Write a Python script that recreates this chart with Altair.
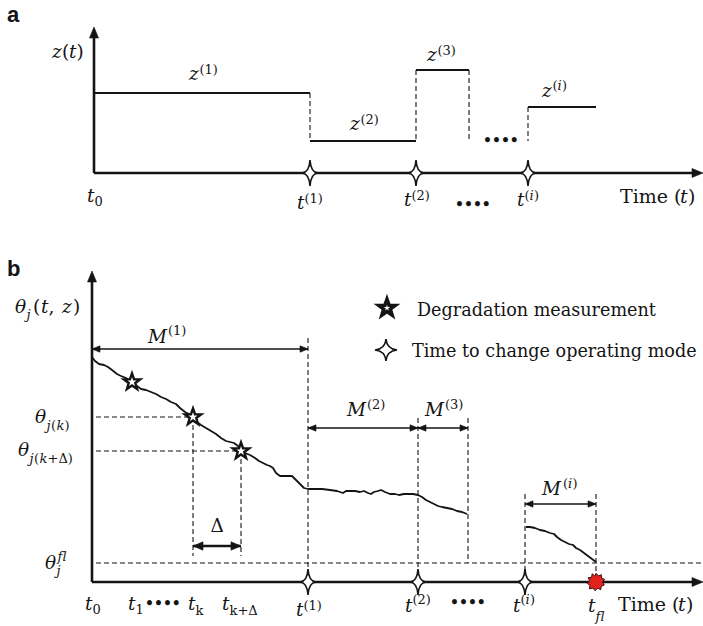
import altair as alt
import pandas as pd

W, H = 703, 626

# ------------------------------------------------------------------
# Diagram geometry (in picture units: x to the right, y downward)
# ------------------------------------------------------------------
# solid segments: x, y, x2, y2, stroke width
SOLID = [
    (94, 173, 94, 36, 2.6),      # (a) vertical axis
    (94, 173, 694, 173, 2.6),    # (a) time axis
    (94, 93, 310, 93, 2.0),      # z(1)
    (310, 141, 416, 141, 2.0),   # z(2)
    (416, 70, 469, 70, 2.0),     # z(3)
    (528, 107, 596, 107, 2.0),   # z(i)
    (92, 582, 92, 280, 2.6),     # (b) vertical axis
    (92, 582, 694, 582, 2.6),    # (b) time axis
    (92, 349, 308, 349, 1.5),    # M(1)
    (308, 428, 418, 428, 1.5),   # M(2)
    (418, 428, 468, 428, 1.5),   # M(3)
    (525, 504, 596, 504, 1.5),   # M(i)
    (193, 546, 241, 546, 2.6),   # Delta
]

# dashed segments: x, y, x2, y2
DASHED = [
    (310, 93, 310, 141), (416, 70, 416, 141), (469, 70, 469, 141), (528, 107, 528, 141),
    (308, 338, 308, 582), (418, 418, 418, 582), (468, 418, 468, 563),
    (525, 494, 525, 582), (596, 494, 596, 582),
    (96, 417, 193, 417), (193, 417, 193, 556),
    (96, 451, 241, 451), (241, 451, 241, 556),
    (96, 563, 703, 563),
]

# degradation path theta_j(t, z), three observed pieces
SEG1 = [(92, 357), (95, 361), (99, 364), (104, 365), (108, 367), (112, 370), (117, 374),
        (121, 376), (126, 378), (132, 382), (137, 386), (141, 389), (146, 390), (151, 392),
        (156, 394), (161, 397), (166, 399), (171, 402), (176, 404), (180, 408), (185, 412),
        (189, 414), (193, 417), (197, 422), (201, 425), (206, 428), (211, 431), (216, 434),
        (221, 438), (226, 441), (230, 442), (234, 443), (238, 446), (241, 451), (245, 453),
        (250, 455), (255, 458), (259, 461), (263, 463), (267, 465), (270, 466), (273, 468),
        (276, 473), (280, 476), (285, 476), (292, 476), (296, 480), (300, 484), (304, 488),
        (308, 489)]
SEG2 = [(308, 489), (315, 489), (322, 489), (330, 490), (337, 491), (343, 493), (346, 491),
        (350, 491), (355, 491), (360, 492), (364, 491), (368, 493), (371, 494), (374, 492),
        (378, 491), (381, 490), (385, 492), (390, 494), (395, 494), (399, 495), (404, 494),
        (408, 494), (413, 494), (418, 495), (422, 497), (426, 500), (430, 502), (434, 504),
        (438, 506), (442, 507), (447, 508), (452, 509), (457, 511), (462, 512), (467, 514)]
SEG3 = [(526, 527), (530, 527), (535, 528), (540, 530), (545, 531), (550, 533), (554, 534),
        (557, 537), (561, 540), (565, 542), (569, 544), (573, 545), (576, 548), (580, 550),
        (584, 553), (588, 556), (592, 559), (596, 562)]

MEASURE_PTS = [(132, 382), (193, 417), (241, 451)]          # five-point stars
MODE_PTS = [(310, 173), (416, 173), (528, 173),
            (308, 582), (418, 582), (525, 582)]               # four-point stars
FAIL_PT = [(596, 582)]                                       # failure burst
LEGEND_STAR5 = [(387, 308)]
LEGEND_STAR4 = [(386, 350)]

# arrow tips
AXIS_UP = [(94, 27), (92, 271)]
AXIS_RIGHT = [(703, 173), (703, 582)]
DIM_RIGHT = [(308, 349), (418, 428), (468, 428), (596, 504)]
DIM_LEFT = [(92, 349), (308, 428), (418, 428), (525, 504)]
DELTA_RIGHT = [(241, 546)]
DELTA_LEFT = [(193, 546)]

M, S = 18.5, 13   # main / script font sizes
LEG = 17.6        # legend font size
TT = 19           # "Time (t)" font size
# text pieces: x (left), baseline y, font size, text
TXT_ITALIC = [
    (52, 58, M, "z"), (69, 58, M, "t"),
    (189, 80, M, "z"), (350, 130, M, "z"), (427, 61, M, "z"), (542, 97, M, "z"),
    (557.5, 90, S, "i"),
    (87, 202, M, "t"), (297, 209, M, "t"), (404, 206, M, "t"), (517, 206, M, "t"),
    (529.5, 200, S, "i"), (680, 203, TT, "t"),
    (15, 313, M, "θ"), (26.5, 319, S, "j"), (41, 313, M, "t"), (62, 313, M, "z"),
    (148, 343, M, "M"), (347, 416, M, "M"), (425, 416, M, "M"), (542, 495, M, "M"),
    (568, 488, S, "i"),
    (35, 423, M, "θ"), (46.5, 430, S, "j"), (56.5, 430, S, "k"),
    (18, 456, M, "θ"), (29.5, 463, S, "j"), (39.5, 463, S, "k"),
    (45, 569, M, "θ"), (56.5, 575, S, "j"), (57.5, 561, S, "f"), (62.5, 561, S, "l"),
    (85, 610, M, "t"), (128, 610, M, "t"), (188, 610, M, "t"), (222, 610, M, "t"),
    (296, 616, M, "t"), (405, 612, M, "t"), (513, 612, M, "t"), (525.5, 604, S, "i"),
    (588, 612, M, "t"), (595.5, 621, S, "f"), (600.5, 621, S, "l"),
    (678, 611, TT, "t"),
]
TXT_UPRIGHT = [
    (62, 58, M, "("), (76.5, 58, M, ")"),
    (199.5, 74, S, "(1)"), (360.5, 124, S, "(2)"), (437.5, 55, S, "(3)"),
    (552.5, 90, S, "("), (562, 90, S, ")"),
    (94.5, 206, S, "0"), (304.5, 203, S, "(1)"), (411.5, 200, S, "(2)"),
    (524.5, 200, S, "("), (534, 200, S, ")"),
    (620, 203, TT, "Time ("), (688, 203, TT, ")"),
    (33, 313, M, "("), (48.5, 313, M, ","), (73, 313, M, ")"),
    (168, 335, S, "(1)"), (367, 409, S, "(2)"), (445, 409, S, "(3)"),
    (563, 488, S, "("), (572.5, 488, S, ")"),
    (51, 430, S, "("), (64.5, 430, S, ")"),
    (34, 463, S, "("), (47.5, 463, S, "+Δ)"),
    (210.5, 532, M, "Δ"),
    (92.5, 614, S, "0"), (135.5, 614, S, "1"), (195.5, 615, S, "k"), (229.5, 615, S, "k+Δ"),
    (303.5, 610, S, "(1)"), (412.5, 604, S, "(2)"),
    (520.5, 604, S, "("), (530, 604, S, ")"),
    (618, 611, TT, "Time ("), (686, 611, TT, ")"),
    (417, 316, LEG, "Degradation measurement"),
    (412, 357, LEG, "Time to change operating mode"),
]
TXT_DOTS = [(483, 145, 14, "••••"), (455, 209, 14, "••••"),
            (145, 608, 14, "••••"), (450, 607, 14, "••••")]
TXT_PANEL = [(7, 22, 22, "a"), (7, 276, 22, "b")]

# ------------------------------------------------------------------
# shapes (unit paths) and styles
# ------------------------------------------------------------------
STAR5 = ("M0,-1L0.235,-0.324L0.951,-0.309L0.380,0.124L0.588,0.809L0,0.4"
         "L-0.588,0.809L-0.380,0.124L-0.951,-0.309L-0.235,-0.324Z")
STAR4_TALL = "M0,-1Q0.06,-0.06,0.6,0Q0.06,0.06,0,1Q-0.06,0.06,-0.6,0Q-0.06,-0.06,0,-1Z"
STAR4 = "M0,-1Q0.08,-0.08,1,0Q0.08,0.08,0,1Q-0.08,0.08,-1,0Q-0.08,-0.08,0,-1Z"
BURST = ("M0,-1L0.3,-0.7L0.6,-0.85L0.65,-0.45L1,-0.3L0.75,0L0.95,0.35L0.6,0.5L0.55,0.9"
         "L0.2,0.7L-0.1,1L-0.35,0.7L-0.75,0.8L-0.7,0.4L-1,0.15L-0.75,-0.15L-0.9,-0.5"
         "L-0.5,-0.55L-0.45,-0.95L-0.15,-0.7Z")

INK = "#141414"
SERIF = "DejaVu Serif"
SANS = "Liberation Sans, Arial, sans-serif"

XS = alt.Scale(domain=[0, W], nice=False, zero=False)
YS = alt.Scale(domain=[H, 0], nice=False, zero=False)


def X(f="x"):
    return alt.X(f"{f}:Q", scale=XS, axis=None)


def Y(f="y"):
    return alt.Y(f"{f}:Q", scale=YS, axis=None)


def pts(rows):
    return pd.DataFrame(rows, columns=["x", "y"])


def txt(rows):
    return pd.DataFrame(rows, columns=["x", "y", "s", "t"])


solid_df = pd.DataFrame(SOLID, columns=["x", "y", "x2", "y2", "w"])
dash_df = pd.DataFrame(DASHED, columns=["x", "y", "x2", "y2"])

curve_rows = []
for k, seg in enumerate([SEG1, SEG2, SEG3]):
    for i, (cx, cy) in enumerate(seg):
        curve_rows.append({"x": cx, "y": cy, "seg": k, "o": i})
curve_df = pd.DataFrame(curve_rows)

# ---- arrow heads as small filled triangles (areas), built from the tips ----
h_rows, v_rows = [], []
hid = 0
for tips, direction, length, half in [
        (AXIS_RIGHT, "right", 11, 4.5), (DIM_RIGHT, "right", 8, 3.2),
        (DIM_LEFT, "left", 8, 3.2), (DELTA_RIGHT, "right", 10, 4.2),
        (DELTA_LEFT, "left", 10, 4.2), (AXIS_UP, "up", 11, 4.5)]:
    for tx, ty in tips:
        hid += 1
        if direction == "up":
            v_rows.append({"y": ty, "x": tx, "x2": tx, "id": hid})
            v_rows.append({"y": ty + length, "x": tx - half, "x2": tx + half, "id": hid})
        else:
            base = tx - length if direction == "right" else tx + length
            h_rows.append({"x": tx, "y": ty, "y2": ty, "id": hid})
            h_rows.append({"x": base, "y": ty - half, "y2": ty + half, "id": hid})
heads_h = pd.DataFrame(h_rows)
heads_v = pd.DataFrame(v_rows)

layers = []

layers.append(
    alt.Chart(dash_df).mark_rule(color=INK, strokeWidth=1.1, strokeDash=[5, 3]).encode(
        x=X(), y=Y(), x2="x2:Q", y2="y2:Q")
)
layers.append(
    alt.Chart(solid_df).mark_rule(color=INK, strokeCap="butt").encode(
        x=X(), y=Y(), x2="x2:Q", y2="y2:Q",
        strokeWidth=alt.StrokeWidth("w:Q", scale=None))
)
layers.append(
    alt.Chart(curve_df).mark_line(color=INK, strokeWidth=1.8, strokeJoin="round").encode(
        x=X(), y=Y(), detail="seg:N", order="o:Q")
)
layers.append(
    alt.Chart(heads_h).mark_area(orient="vertical", color=INK, opacity=1,
                                 stroke=INK, strokeWidth=0.6).encode(
        x=X(), y=Y(), y2="y2:Q", detail="id:N")
)
layers.append(
    alt.Chart(heads_v).mark_area(orient="horizontal", color=INK, opacity=1,
                                 stroke=INK, strokeWidth=0.6).encode(
        y=Y(), x=X(), x2="x2:Q", detail="id:N")
)


def marker(rows, shape, size, fill, stroke=INK, sw=0.6):
    return alt.Chart(pts(rows)).mark_point(
        shape=shape, filled=True, fill=fill, stroke=stroke, strokeWidth=sw,
        opacity=1, fillOpacity=1, strokeOpacity=1).encode(
        x=X(), y=Y(), size=alt.value(size))


layers += [
    marker(MEASURE_PTS, STAR5, 300, "white", INK, 2.4),
    marker(LEGEND_STAR5, STAR5, 300, "white", INK, 3.6),
    marker(MODE_PTS, STAR4_TALL, 676, "white", INK, 1.6),
    marker(LEGEND_STAR4, STAR4, 484, "white", INK, 1.6),
    marker(FAIL_PT, BURST, 300, "#e2231d", "#3a1010", 1.0),
]


def text_layer(rows, font, style="normal", weight="normal"):
    return alt.Chart(txt(rows)).mark_text(
        align="left", baseline="alphabetic", font=font, fontStyle=style,
        fontWeight=weight, color=INK).encode(
        x=X(), y=Y(), text="t:N", size=alt.Size("s:Q", scale=None))


layers += [
    text_layer(TXT_ITALIC, SERIF, "italic"),
    text_layer(TXT_UPRIGHT, SERIF),
    text_layer(TXT_DOTS, SERIF, weight="bold"),
    text_layer(TXT_PANEL, SANS, weight="bold"),
]

chart = alt.layer(*layers).properties(
    width=W, height=H, padding=0, autosize="none", background="white"
).configure_view(stroke=None)

chart.save("out.html", embed_options={"renderer": "svg", "actions": False})
